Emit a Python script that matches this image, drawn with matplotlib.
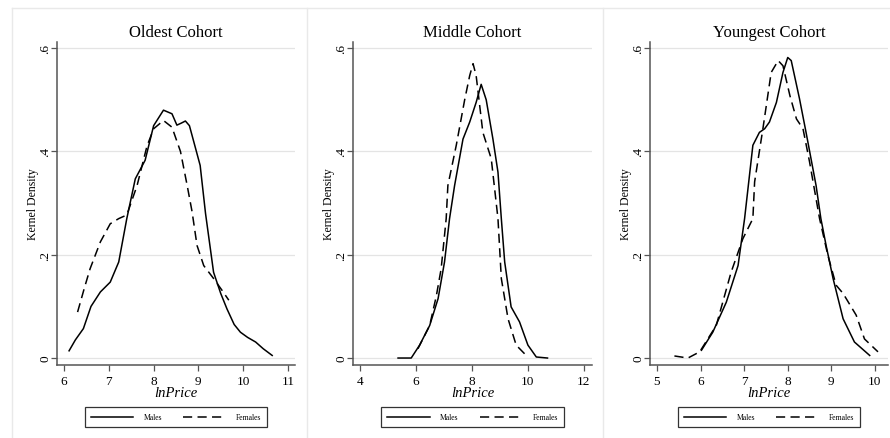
import matplotlib
matplotlib.use("Agg")
import matplotlib.pyplot as plt
from matplotlib.lines import Line2D

plt.rcParams["font.family"] = ["Liberation Serif", "DejaVu Serif"]

titles = ["Oldest Cohort", "Middle Cohort", "Youngest Cohort"]

# kernel density curves (lnPrice, density)
old_m_x = [6.11, 6.25, 6.43, 6.6, 6.81, 7.03, 7.22, 7.4, 7.59, 7.81, 8.0, 8.22, 8.41, 8.52, 8.62, 8.71, 8.8, 8.9, 9.04, 9.16, 9.34, 9.5, 9.64, 9.8, 9.94, 10.1, 10.28, 10.45, 10.65]
old_m_y = [0.014, 0.035, 0.057, 0.1, 0.128, 0.147, 0.186, 0.27, 0.347, 0.383, 0.45, 0.48, 0.473, 0.451, 0.455, 0.459, 0.45, 0.418, 0.373, 0.28, 0.166, 0.125, 0.095, 0.065, 0.05, 0.04, 0.031, 0.018, 0.005]
old_f_x = [6.3, 6.45, 6.58, 6.81, 7.03, 7.22, 7.4, 7.63, 7.85, 8.0, 8.22, 8.41, 8.6, 8.75, 8.86, 8.97, 9.12, 9.34, 9.53, 9.68]
old_f_y = [0.089, 0.135, 0.173, 0.225, 0.26, 0.27, 0.277, 0.334, 0.41, 0.444, 0.46, 0.447, 0.4, 0.334, 0.283, 0.218, 0.179, 0.154, 0.131, 0.112]

mid_m_x = [5.36, 5.83, 6.13, 6.49, 6.79, 7.02, 7.2, 7.38, 7.68, 7.92, 8.15, 8.33, 8.51, 8.75, 8.93, 9.05, 9.17, 9.4, 9.7, 10.0, 10.3, 10.7]
mid_m_y = [0.0, 0.0, 0.025, 0.063, 0.115, 0.186, 0.27, 0.334, 0.424, 0.457, 0.495, 0.53, 0.5, 0.424, 0.36, 0.27, 0.186, 0.099, 0.07, 0.025, 0.002, 0.0]
mid_f_x = [6.07, 6.49, 6.73, 6.9, 7.08, 7.14, 7.44, 7.74, 7.92, 8.04, 8.15, 8.39, 8.69, 8.93, 9.05, 9.29, 9.58, 9.94]
mid_f_y = [0.018, 0.063, 0.121, 0.173, 0.27, 0.334, 0.412, 0.5, 0.547, 0.57, 0.547, 0.437, 0.386, 0.27, 0.154, 0.076, 0.025, 0.005]

yng_m_x = [6.02, 6.28, 6.59, 6.86, 7.01, 7.2, 7.35, 7.47, 7.58, 7.74, 7.89, 8.0, 8.08, 8.27, 8.42, 8.65, 8.76, 8.88, 9.04, 9.27, 9.53, 9.88]
yng_m_y = [0.015, 0.05, 0.108, 0.179, 0.27, 0.412, 0.437, 0.444, 0.457, 0.495, 0.553, 0.582, 0.576, 0.502, 0.437, 0.334, 0.27, 0.218, 0.154, 0.076, 0.031, 0.005]
yng_f_x = [5.4, 5.71, 5.98, 6.36, 6.7, 6.97, 7.2, 7.24, 7.43, 7.62, 7.78, 7.89, 8.05, 8.2, 8.35, 8.5, 8.73, 8.92, 9.11, 9.27, 9.57, 9.76, 10.07]
yng_f_y = [0.004, 0.0, 0.012, 0.063, 0.166, 0.231, 0.27, 0.341, 0.444, 0.553, 0.576, 0.566, 0.508, 0.463, 0.444, 0.38, 0.27, 0.199, 0.141, 0.125, 0.083, 0.037, 0.012]

males = [(old_m_x, old_m_y), (mid_m_x, mid_m_y), (yng_m_x, yng_m_y)]
females = [(old_f_x, old_f_y), (mid_f_x, mid_f_y), (yng_f_x, yng_f_y)]

xticks = [[6, 7, 8, 9, 10, 11], [4, 6, 8, 10, 12], [5, 6, 7, 8, 9, 10]]
xlims = [(5.84, 11.16), (3.75, 12.29), (4.84, 10.3)]
yticks = [0, 0.2, 0.4, 0.6]
ytick_labels = ["0", ".2", ".4", ".6"]

W, H = 890, 439
fig = plt.figure(figsize=(W / 100, H / 100), dpi=100)

# panel borders (each panel was its own graph)
fc = "#e9e9e9"
for px in [12, 307, 603]:
    fig.add_artist(Line2D([px / W, px / W], [0, 1 - 9 / H], color=fc, lw=1))
fig.add_artist(Line2D([12 / W, 1], [1 - 9 / H, 1 - 9 / H], color=fc, lw=1))

ax_left = [57, 353, 650]
ax_right = [295, 592, 888]
top, bottom = 43, 366
axcol = "#555555"

for i in range(3):
    ax = fig.add_axes([ax_left[i] / W, 1 - bottom / H,
                       (ax_right[i] - ax_left[i]) / W, (bottom - top) / H])
    ax.plot(*males[i], color="black", lw=1.1, label="Males")
    ax.plot(*females[i], color="black", lw=1.1, dashes=(6, 3.5), label="Females")
    ax.set_xlim(*xlims[i])
    ax.set_ylim(-0.0135, 0.612)
    ax.set_xticks(xticks[i])
    ax.set_yticks(yticks)
    ax.set_yticklabels(ytick_labels, rotation=90, va="center")
    ax.grid(axis="y", color="#e4e4e4", lw=0.9)
    ax.set_axisbelow(True)
    for s in ["top", "right"]:
        ax.spines[s].set_visible(False)
    for s in ["left", "bottom"]:
        ax.spines[s].set_color(axcol)
        ax.spines[s].set_linewidth(1.1)
    ax.tick_params(colors=axcol, labelcolor="black", labelsize=9.5, length=4, width=0.9)
    ax.tick_params(axis="y", pad=0)
    ax.set_title(titles[i], fontsize=12, pad=4)
    ax.set_xlabel("lnPrice", style="italic", fontsize=10.5, labelpad=-1)
    ax.set_ylabel("Kernel Density", fontsize=8.5, labelpad=0.5)
    leg = ax.legend(loc="center", bbox_to_anchor=(0.5, -0.162), ncol=2,
                    fontsize=5.5, handlelength=5.6, handletextpad=1.3,
                    columnspacing=2.8, borderpad=0.8, fancybox=False,
                    edgecolor="#333333", framealpha=1)
    leg.get_frame().set_linewidth(0.9)

fig.savefig("out.png", dpi=100)
